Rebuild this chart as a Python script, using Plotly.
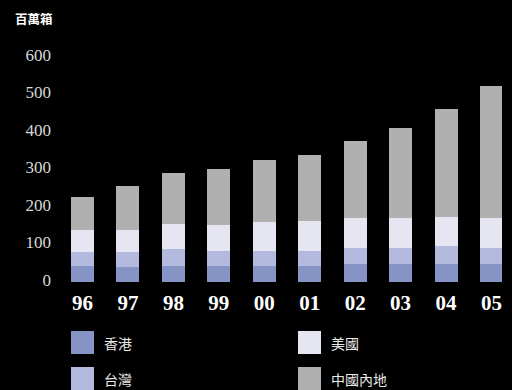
import plotly.graph_objects as go

years = ["96", "97", "98", "99", "00", "01", "02", "03", "04", "05"]
series_names = ["香港", "台灣", "美國", "中國內地"]
hk = [42, 39, 42, 42, 44, 44, 47, 47, 47, 47]
tw = [37, 40, 45, 42, 40, 40, 45, 45, 48, 45]
us = [61, 61, 67, 67, 75, 78, 80, 80, 78, 80]
cn = [88, 115, 136, 150, 166, 176, 203, 238, 288, 350]
y_ticks = [0, 100, 200, 300, 400, 500, 600]
y_unit = "百萬箱"

colors = ["#8593C5", "#B4BADE", "#E6E6F3", "#B0B0B0"]

W, H = 512, 390
L, R, T, B = 55, 10, 30, 108
PW, PH = W - L - R, H - T - B

fig = go.Figure()
for name, vals, c in zip(series_names, [hk, tw, us, cn], colors):
    fig.add_trace(go.Bar(x=list(range(len(years))), y=vals, name=name,
                         marker=dict(color=c, line=dict(width=0)),
                         width=0.506, showlegend=False, hoverinfo="skip"))

def px(x):
    return (x - L) / PW

def py(y):
    return (H - B - y) / PH

shapes = []
annotations = []
legend_pos = [(71, 331), (71, 367), (298, 331), (298, 367)]
for (x0, y0), name, c in zip(legend_pos, series_names, colors):
    shapes.append(dict(type="rect", xref="paper", yref="paper",
                       x0=px(x0), x1=px(x0 + 23), y0=py(y0 + 23), y1=py(y0),
                       fillcolor=c, line=dict(width=0)))
    annotations.append(dict(text=name, xref="paper", yref="paper",
                            x=px(x0 + 31), y=py(y0 + 11.5), xanchor="left", yanchor="middle",
                            showarrow=False,
                            font=dict(family="Noto Sans CJK TC", size=14, color="#e8e8e8")))

annotations.append(dict(text=y_unit, xref="paper", yref="paper",
                        x=px(13), y=py(19), xanchor="left", yanchor="middle",
                        showarrow=False,
                        font=dict(family="Noto Sans CJK TC", size=12.5, color="#ffffff",
                                  weight="bold")))

fig.update_layout(
    width=W, height=H,
    margin=dict(l=L, r=R, t=T, b=B),
    paper_bgcolor="#000000", plot_bgcolor="#000000",
    barmode="stack",
    bargap=0.49,
    shapes=shapes,
    annotations=annotations,
    xaxis=dict(range=[(L - 82.5) / 45.44, (W - R - 82.5) / 45.44],
               tickvals=list(range(len(years))), ticktext=years,
               showgrid=False, zeroline=False, showline=False, ticks="",
               ticklabelstandoff=6,
               tickfont=dict(family="Liberation Serif", size=21, color="#ffffff", weight="bold")),
    yaxis=dict(range=[0, PH / 0.375], tickvals=y_ticks,
               showgrid=False, zeroline=False, showline=False, ticks="",
               ticklabelstandoff=3, ticklabelshift=-2,
               tickfont=dict(family="Liberation Serif", size=17, color="#d8d8d8")),
)

fig.write_html("out.html", config={"displayModeBar": False},
               post_script="document.body.style.margin='0';document.body.style.background='#000';")
